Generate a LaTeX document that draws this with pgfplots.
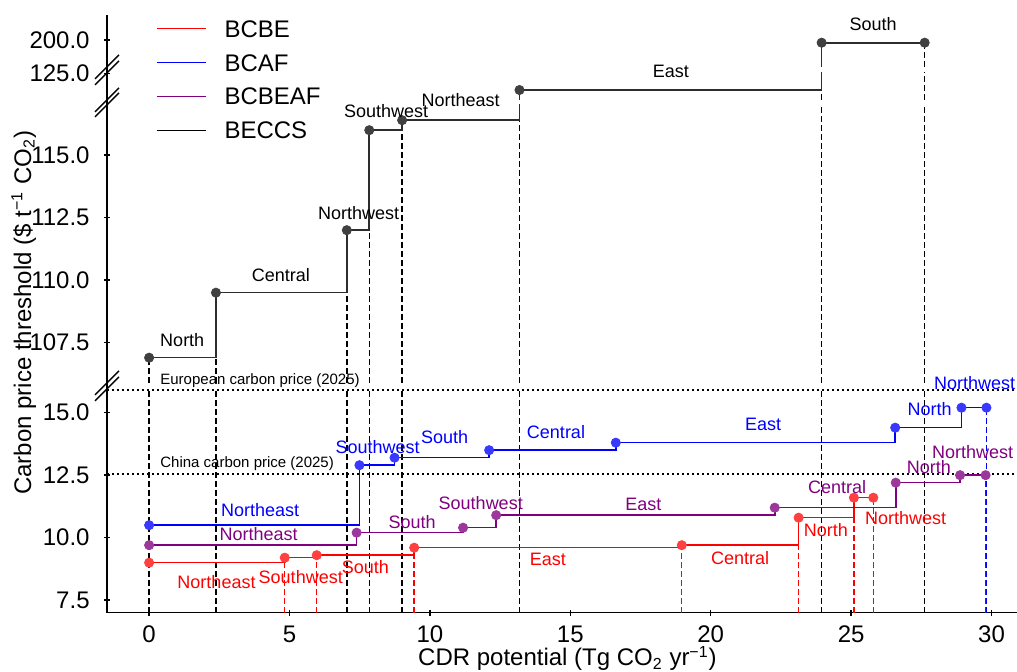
\documentclass[border=0pt]{standalone}
\usepackage{pgfplots}
\pgfplotsset{compat=1.18}
\usepackage{pgfplotstable}
\usepackage{fontspec}
\setmainfont{Liberation Sans}
\definecolor{mpurple}{RGB}{128,0,128}
\definecolor{beccsl}{RGB}{45,45,45}
\definecolor{beccsm}{RGB}{64,64,64}

\pgfplotstableread{
x y
0 106.9
2.38 109.5
7.04 112.0
7.84 116.0
9.01 116.4
13.19 124.33
23.95 199.89
27.62 199.89
}\beccs
\pgfplotstableread{
x y
0 9.0
4.83 9.2
5.97 9.3
9.44 9.6
18.97 9.7
23.13 10.8
25.10 11.6
25.79 11.6
}\bcbe
\pgfplotstableread{
x y
0 10.5
7.49 12.9
8.74 13.2
12.11 13.5
16.62 13.8
26.57 14.4
28.93 15.2
29.82 15.2
}\bcaf
\pgfplotstableread{
x y
0 9.7
7.39 10.2
11.18 10.4
12.36 10.9
22.28 11.2
26.59 12.2
28.88 12.5
29.79 12.5
}\bcbeaf

\tikzset{lab/.style={font=\fontsize{9}{10}\selectfont}}
\pgfplotsset{
  brk/.style={
    scale only axis, width=455pt, anchor=south west,
    xmin=-1.5, xmax=30.908,
    clip mode=individual,
    every tick/.style={line width=0.7pt, black},
    tick align=outside, major tick length=3pt,
    /pgf/number format/assume math mode=true,
    tick label style={font=\fontsize{12}{14}\selectfont},
    y tick label style={/pgf/number format/fixed, /pgf/number format/fixed zerofill, /pgf/number format/precision=1, inner sep=0pt, xshift=-7pt},
  },
  noarrows/.style={
    axis line style={-, line width=0.7pt, black},
    every outer x axis line/.append style={-},
    every outer y axis line/.append style={-},
    every inner x axis line/.append style={-},
    every inner y axis line/.append style={-},
  },
  upper/.style={brk, axis y line=left, axis x line=none, noarrows},
  vdash/.style={dash pattern=on 3pt off 1.5pt, line width=0.7pt},
  stepl/.style={const plot, no marks, line width=0.8pt},
  dots/.style={only marks, mark=*, mark size=2.3pt},
}

\begin{document}
\begin{tikzpicture}
\useasboundingbox (0pt,0pt) rectangle (508.5pt,336pt);

% ---------------- bottom panel ----------------
\begin{axis}[brk, at={(53.5pt,29.65pt)}, height=111.85pt,
  ymin=7, ymax=15.948, ytick={7.5,10,12.5,15},
  axis x line=bottom, axis y line=left, noarrows,
  xtick={0,5,10,15,20,25,30},
  x tick label style={inner sep=0pt, yshift=-5pt},
]
\addplot[black, dash pattern=on 0.8pt off 1.7pt, line width=0.8pt] coordinates {(-1.5,15.9) (30.908,15.9)};
\addplot[black, dash pattern=on 0.8pt off 1.7pt, line width=0.8pt] coordinates {(-1.5,12.55) (30.908,12.55)};
\addplot[red, vdash, ycomb, skip coords between index={0}{1}] table[x=x,y=y] {\bcbe};
\addplot[blue, vdash, ycomb] coordinates {(29.82,15.2)};
\addplot[mpurple, vdash, ycomb] coordinates {(29.79,12.5)};
\addplot[black, vdash, ycomb] table[x=x,y=y] {\beccs};
\addplot[red, stepl] table[x=x,y=y] {\bcbe};
\addplot[blue, stepl] table[x=x,y=y] {\bcaf};
\addplot[mpurple, stepl] table[x=x,y=y] {\bcbeaf};
\addplot[dots, red!75!white] table[x=x,y=y] {\bcbe};
\addplot[dots, blue!78!white] table[x=x,y=y] {\bcaf};
\addplot[dots, mpurple!78!white] table[x=x,y=y] {\bcbeaf};

\node[anchor=base west, font=\fontsize{7.5}{9}\selectfont] at (axis cs:0.15,16.108) {European carbon price (2025)};
\node[anchor=base west, font=\fontsize{7.5}{9}\selectfont] at (axis cs:0.15,12.8) {China carbon price (2025)};

\node[lab, text=blue] at (axis cs:3.95,11.12) {Northeast};
\node[lab, text=blue] at (axis cs:8.14,13.62) {Southwest};
\node[lab, text=blue] at (axis cs:10.52,14.02) {South};
\node[lab, text=blue] at (axis cs:14.49,14.22) {Central};
\node[lab, text=blue] at (axis cs:21.87,14.53) {East};
\node[lab, text=blue] at (axis cs:27.8,15.13) {North};
\node[lab, text=blue] at (axis cs:29.4,16.18) {Northwest};

\node[lab, text=mpurple] at (axis cs:3.9,10.13) {Northeast};
\node[lab, text=mpurple] at (axis cs:9.37,10.62) {South};
\node[lab, text=mpurple] at (axis cs:11.81,11.38) {Southwest};
\node[lab, text=mpurple] at (axis cs:17.6,11.33) {East};
\node[lab, text=mpurple] at (axis cs:24.5,12.02) {Central};
\node[lab, text=mpurple] at (axis cs:27.77,12.82) {North};
\node[lab, text=mpurple] at (axis cs:29.33,13.42) {Northwest};

\node[lab, text=red] at (axis cs:2.4,8.22) {Northeast};
\node[lab, text=red] at (axis cs:5.4,8.42) {Southwest};
\node[lab, text=red] at (axis cs:7.7,8.82) {South};
\node[lab, text=red] at (axis cs:14.2,9.12) {East};
\node[lab, text=red] at (axis cs:21.05,9.2) {Central};
\node[lab, text=red] at (axis cs:24.1,10.32) {North};
\node[lab, text=red] at (axis cs:26.94,10.8) {Northwest};

\node[anchor=base, font=\fontsize{12}{14}\selectfont] at (rel axis cs:0.506,-0.238) {CDR potential (Tg CO\textsubscript{2} yr\textsuperscript{−1})};
\node[anchor=base, rotate=90, font=\fontsize{12}{14}\selectfont] at (rel axis cs:-0.0835,1.3398) {Carbon price threshold (\$ t\textsuperscript{−1} CO\textsubscript{2})};
\end{axis}

% ---------------- middle panel ----------------
\begin{axis}[upper, at={(53.5pt,144.5pt)}, height=139pt,
  ymin=105.888, ymax=117.008, ytick={107.5,110,112.5,115},
  legend style={at={(axis description cs:0.05385,1.3058)}, anchor=north west,
    draw=none, fill=none, inner sep=0pt, outer sep=0pt,
    row sep=8.35pt, column sep=9pt,
    font=\fontsize{12}{14}\selectfont,
    nodes={inner sep=0pt, text height=8.6pt, text depth=0pt}},
  legend cell align=left,
  legend image code/.code={\draw[#1, line width=0.75pt] (0pt,0pt) -- (24.5pt,0pt);},
]
\addlegendimage{red}\addlegendentry{BCBE}
\addlegendimage{blue}\addlegendentry{BCAF}
\addlegendimage{mpurple}\addlegendentry{BCBEAF}
\addlegendimage{black}\addlegendentry{BECCS}
\addplot[black, vdash, ycomb] table[x=x,y=y] {\beccs};
\addplot[beccsl, stepl] table[x=x,y=y] {\beccs};
\addplot[dots, beccsm, restrict y to domain=105:118] table[x=x,y=y] {\beccs};
\node[lab] at (axis cs:1.18,107.6) {North};
\node[lab] at (axis cs:4.69,110.21) {Central};
\node[lab] at (axis cs:7.46,112.70) {Northwest};
\node[lab] at (axis cs:8.44,116.77) {Southwest};
\node[lab] at (axis cs:11.09,117.21) {Northeast};
\end{axis}

% ---------------- small panel (125) ----------------
\begin{axis}[upper, at={(53.5pt,286pt)}, height=13.5pt,
  ymin=123.932, ymax=125.012, ytick={125},
]
\addplot[black, vdash, ycomb] table[x=x,y=y] {\beccs};
\addplot[beccsl, stepl] table[x=x,y=y] {\beccs};
\addplot[dots, beccsm, restrict y to domain=123.9:125.1] table[x=x,y=y] {\beccs};
\node[lab] at (axis cs:18.58,125.06) {East};
\end{axis}

% ---------------- top panel (200) ----------------
\begin{axis}[upper, at={(53.5pt,302.5pt)}, height=26pt,
  ymin=198.92, ymax=201, ytick={200},
]
\addplot[black, vdash, ycomb] table[x=x,y=y] {\beccs};
\addplot[beccsl, stepl] table[x=x,y=y] {\beccs};
\addplot[dots, beccsm, restrict y to domain=198:202] table[x=x,y=y] {\beccs};
\node[lab] at (axis cs:25.78,200.64) {South};
\end{axis}

% axis break marks
\draw[line width=0.7pt] (53.5pt,299.5pt) -- (53.5pt,302.5pt);
\draw[line width=0.7pt] (53.5pt,283.5pt) -- (53.5pt,286pt);
\draw[line width=0.7pt] (53.5pt,141.5pt) -- (53.5pt,144.5pt);
\foreach \yy in {302.5,299.5,286,283.5,144.5,141.5}{
  \draw[line width=0.7pt] (47.5pt,\yy pt-6pt) -- (59.5pt,\yy pt+6pt);
}
\end{tikzpicture}
\end{document}
